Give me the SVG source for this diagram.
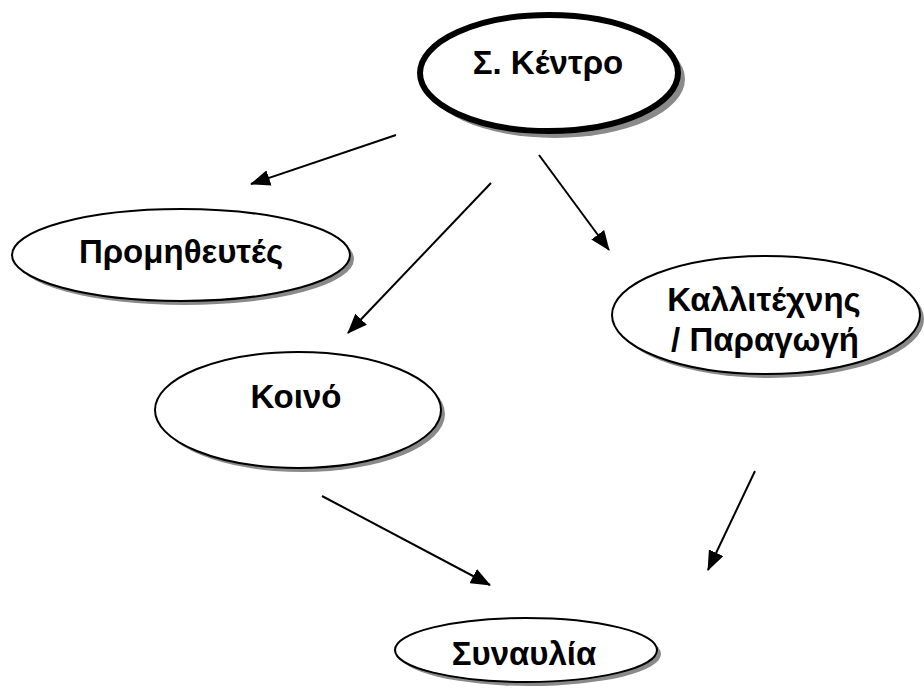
<svg xmlns="http://www.w3.org/2000/svg" width="924" height="688" viewBox="0 0 924 688">
  <style>
    .shadow { fill: #8a8a8a; }
    .node { fill: #ffffff; stroke: #000000; stroke-width: 2; }
    .main { stroke-width: 6; }
    .label { font-family: "Liberation Sans", Arial, sans-serif; font-weight: bold; font-size: 33px; fill: #000000; text-anchor: middle; }
    .edge { stroke: #000000; stroke-width: 2; fill: none; marker-end: url(#arrow); }
  </style>
  <defs>
    <marker id="arrow" markerUnits="userSpaceOnUse" markerWidth="20" markerHeight="16" viewBox="0 0 20 16" refX="19" refY="8" orient="auto">
      <path d="M0,0 L20,8 L0,16 Z" fill="#000000"/>
    </marker>
  </defs>
  <rect width="924" height="688" fill="#ffffff"/>

  <g id="connectors">
    <line class="edge" x1="396" y1="135" x2="251" y2="184"/>
    <line class="edge" x1="491" y1="183" x2="348" y2="333"/>
    <line class="edge" x1="539" y1="155" x2="609" y2="250"/>
    <line class="edge" x1="322" y1="496" x2="490" y2="585"/>
    <line class="edge" x1="755" y1="471" x2="708" y2="570"/>
  </g>

  <g id="node-kentro">
    <ellipse class="shadow" cx="555" cy="79" rx="130" ry="59"/>
    <ellipse class="node main" cx="549" cy="73" rx="129" ry="58"/>
    <text class="label" x="548" y="74">Σ. Κέντρο</text>
  </g>

  <g id="node-promitheftes">
    <ellipse class="shadow" cx="185" cy="259" rx="169" ry="46"/>
    <ellipse class="node" cx="181" cy="255" rx="169" ry="46"/>
    <text class="label" x="181" y="263">Προμηθευτές</text>
  </g>

  <g id="node-kallitechnis">
    <ellipse class="shadow" cx="770" cy="319" rx="154" ry="59"/>
    <ellipse class="node" cx="766" cy="315" rx="154" ry="59"/>
    <text class="label" x="764" y="311">Καλλιτέχνης</text>
    <text class="label" x="765" y="351">/ Παραγωγή</text>
  </g>

  <g id="node-koino">
    <ellipse class="shadow" cx="302" cy="414" rx="143" ry="58"/>
    <ellipse class="node" cx="298" cy="410" rx="143" ry="58"/>
    <text class="label" x="296" y="408">Κοινό</text>
  </g>

  <g id="node-synavlia">
    <ellipse class="shadow" cx="530" cy="654" rx="131" ry="32"/>
    <ellipse class="node" cx="526" cy="650" rx="131" ry="32"/>
    <text class="label" x="524" y="665">Συναυλία</text>
  </g>
</svg>
